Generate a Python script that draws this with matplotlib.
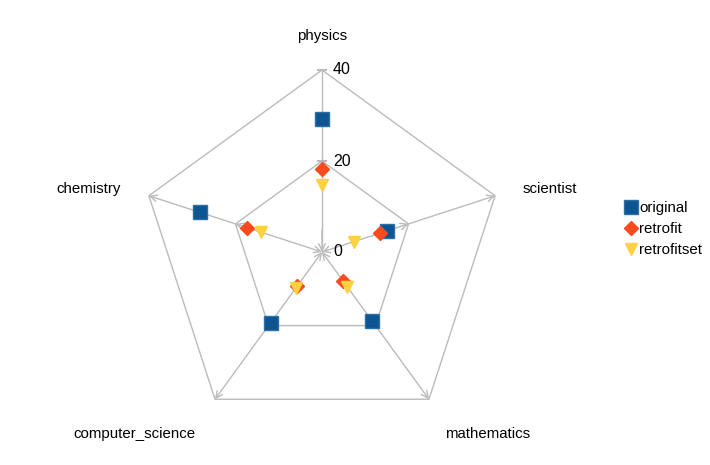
#!/usr/bin/env python3

import numpy as np
import matplotlib.pyplot as plt

plt.rcParams['font.family'] = ['Liberation Sans', 'DejaVu Sans']

categories = ['physics', 'scientist', 'mathematics', 'computer_science', 'chemistry']
original = [29.2, 15.0, 18.8, 19.2, 28.2]
retrofit = [18.2, 13.4, 8.0, 9.2, 17.4]
retrofitset = [14.7, 7.4, 9.5, 9.7, 14.1]
ticks = [0, 20, 40]

# label placement (radius, horizontal / vertical shift) in data units
label_r = [47.5, 48, 48, 48, 48]
label_dx = [0, 4.5, 8.2, -13, -5.6]
label_dy = [0, -0.9, -1.1, -1.1, -0.9]

grid_col = '#bbbbbb'
rmax = 40
px = 182.0 / rmax  # pixels per unit

angles = np.deg2rad(90 - 72 * np.arange(len(categories)))

def xy(r, a):
    return r * np.cos(a), r * np.sin(a)

fig = plt.figure(figsize=(7.1, 4.65), dpi=100)
ax = fig.add_axes([0, 0, 1, 1])
ax.set_xlim(-322 / px, (710 - 322) / px)
ax.set_ylim(-(465 - 252) / px, 252 / px)
ax.axis('off')

# pentagon grid
for t in ticks[1:]:
    xs = [xy(t, a)[0] for a in angles] + [xy(t, angles[0])[0]]
    ys = [xy(t, a)[1] for a in angles] + [xy(t, angles[0])[1]]
    ax.plot(xs, ys, color=grid_col, lw=1, zorder=1)

# spokes
for i, a in enumerate(angles):
    if i == 0:
        ax.plot([0, 0], [0, rmax], color=grid_col, lw=1, zorder=1)
        for t in ticks[1:]:
            ax.plot([-0.8, 0.8], [t, t], color=grid_col, lw=1.5, zorder=1)
        ax.annotate('', xy=(0, 0), xytext=(0, 5),
                    arrowprops=dict(arrowstyle='->', color=grid_col, lw=1,
                                    shrinkA=0, shrinkB=0, mutation_scale=12))
        continue
    ax.annotate('', xy=xy(ticks[1], a), xytext=(0, 0),
                arrowprops=dict(arrowstyle='<->', color=grid_col, lw=1,
                                shrinkA=0, shrinkB=0, mutation_scale=12))
    ax.annotate('', xy=xy(rmax, a), xytext=xy(ticks[1], a),
                arrowprops=dict(arrowstyle='->', color=grid_col, lw=1,
                                shrinkA=0, shrinkB=0, mutation_scale=12))

for t in ticks:
    ax.text(2.4, t, str(t), ha='left', va='center', fontsize=11.5)

for i, a in enumerate(angles):
    x, y = xy(label_r[i], a)
    ax.text(x + label_dx[i], y + label_dy[i], categories[i],
            ha='center', va='center', fontsize=10.8)

def pts(vals):
    return [xy(v, a)[0] for v, a in zip(vals, angles)], [xy(v, a)[1] for v, a in zip(vals, angles)]

x, y = pts(original)
ax.plot(x, y, 's', ls='none', color='#0c5592', mec='#2f6fa3', ms=9.5, label='original', zorder=3)
x, y = pts(retrofit)
ax.plot(x, y, 'D', ls='none', color='#fb4a1e', mec='#fb4a1e', ms=7, label='retrofit', zorder=4)
x, y = pts(retrofitset)
ax.plot(x, y, 'v', ls='none', color='#fdd13f', mec='#fdd13f', ms=9, label='retrofitset', zorder=5)

ax.legend(loc='upper left', bbox_to_anchor=(0.87, 0.58), frameon=False,
          fontsize=10.8, handletextpad=0.05, handlelength=1.0, labelspacing=0.45,
          borderaxespad=0)

plt.savefig('out.png', dpi=100)
